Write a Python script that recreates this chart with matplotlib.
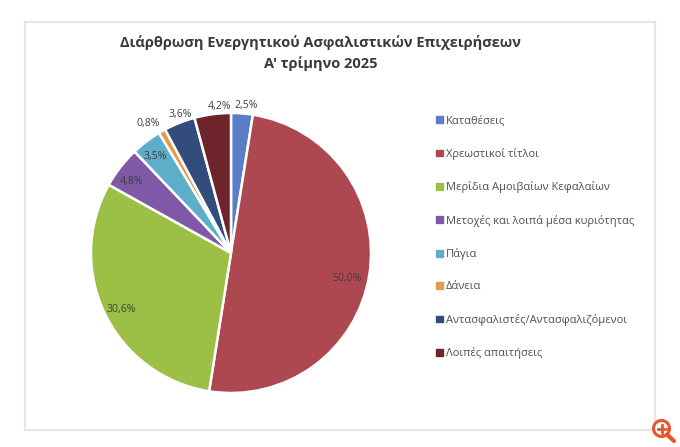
import numpy as np
import matplotlib
matplotlib.use("Agg")
import matplotlib.pyplot as plt
from matplotlib.patches import Patch, Rectangle, Circle

title_lines = ["Διάρθρωση Ενεργητικού Ασφαλιστικών Επιχειρήσεων", "Α' τρίμηνο 2025"]
categories = ["Καταθέσεις", "Χρεωστικοί τίτλοι", "Μερίδια Αμοιβαίων Κεφαλαίων",
              "Μετοχές και λοιπά μέσα κυριότητας", "Πάγια", "Δάνεια",
              "Αντασφαλιστές/Αντασφαλιζόμενοι", "Λοιπές απαιτήσεις"]
values = [2.5, 50.0, 30.6, 4.8, 3.5, 0.8, 3.6, 4.2]
colors = ["#5b7dc4", "#ad4750", "#9cc045", "#7f58a6", "#5faec9", "#e59a45", "#324c7c", "#6f242c"]

# label placement: distance from centre (in radii) and a nudge in pixels
label_r = [1.07, 0.84, 0.875, 0.9, 0.9, 1.09, 1.08, 1.06]
label_nudge = [(3, -2), (0, -7), (0, -3), (0, -6), (1, -4), (-8, -3), (5, -2), (8, -1)]

plt.rcParams['font.family'] = ['Open Sans', 'DejaVu Sans']

W, H = 680, 447
fig = plt.figure(figsize=(W / 100, H / 100), dpi=100, facecolor="white")

# background layer in pixel coordinates, for the frame and the zoom icon
bg = fig.add_axes([0, 0, 1, 1])
bg.set_xlim(0, W)
bg.set_ylim(H, 0)
bg.axis("off")
bg.add_patch(Rectangle((24.5, 21.5), 630, 408, fill=False, ec="#e6e6e6", lw=1.6))

for i, line in enumerate(title_lines):
    bg.text(320.5, 43 + i * 20.5, line, ha="center", va="center", fontsize=10.5,
            fontweight="bold", color="#3a3a3a")

# the pie
cx, cy, rad = 231, 253, 140
ax = fig.add_axes([(cx - rad) / W, (H - cy - rad) / H, 2 * rad / W, 2 * rad / H])
wedges, _ = ax.pie(values, colors=colors, startangle=90, counterclock=False, radius=1,
                   wedgeprops={"edgecolor": "white", "linewidth": 1.8})
ax.set_xlim(-1, 1)
ax.set_ylim(-1, 1)
ax.set_aspect("equal")

for w, v, r, (nx, ny) in zip(wedges, values, label_r, label_nudge):
    ang = np.deg2rad((w.theta1 + w.theta2) / 2)
    ax.annotate(f"{v:.1f}%".replace(".", ","), xy=(r * np.cos(ang), r * np.sin(ang)),
                xytext=(nx * 0.72, ny * 0.72), textcoords="offset points",
                ha="center", va="center", fontsize=7.6, color="#404040",
                annotation_clip=False)

# legend
handles = [Patch(color=c) for c in colors]
bg.legend(handles, categories, loc="upper left", bbox_to_anchor=(432 / W, 1 - 111 / H),
          bbox_transform=fig.transFigure, frameon=False, fontsize=8.05, labelcolor="#505050",
          handlelength=0.54, handleheight=0.54, handletextpad=0.3, labelspacing=1.91,
          borderpad=0.4, borderaxespad=0)

# zoom icon in the corner
bg.add_patch(Circle((661.5, 428.5), 8, fill=True, fc="white", ec="#e8562a", lw=2.2, zorder=5))
bg.plot([667, 674], [434.5, 441], color="#e8562a", lw=3, zorder=5, solid_capstyle="round")
bg.plot([657.5, 665.5], [428.5, 428.5], color="#e8562a", lw=2, zorder=6)
bg.plot([661.5, 661.5], [424.5, 432.5], color="#e8562a", lw=2, zorder=6)

fig.savefig("out.png", dpi=100)
